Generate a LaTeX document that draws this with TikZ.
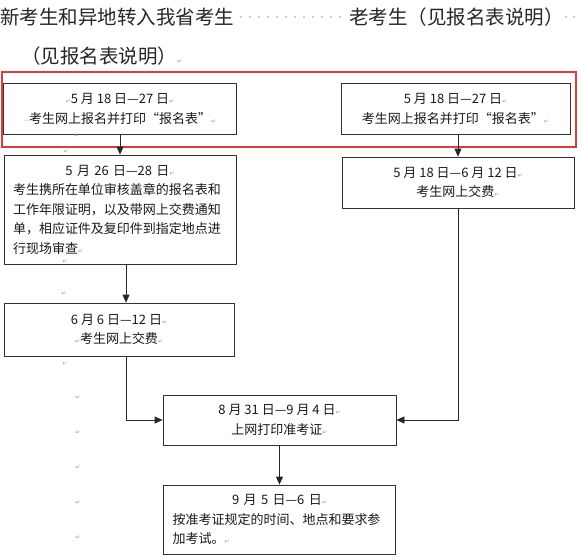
\documentclass[tikz,border=0pt]{standalone}
\definecolor{hlred}{HTML}{DC3C3C}
\definecolor{rtngray}{HTML}{9A9A9A}
\usepackage{fontspec}
\setmainfont{Noto Sans CJK SC}
\newfontfamily\symfont{DejaVu Sans}
\usetikzlibrary{arrows.meta, positioning}
\newcommand{\rtn}{{\symfont\fontsize{6}{6}\selectfont\color{rtngray}↵}}
\newcommand{\spc}{{\symfont\fontsize{8}{8}\selectfont\color{rtngray}··}}
\newcommand{\midline}[1]{\makebox[214pt][c]{#1}}

\begin{document}
\begin{tikzpicture}[x=1pt, y=-1pt,
        box/.style={draw=black!80, line width=0.8pt, inner sep=0pt, align=center,
                    font=\fontsize{13}{19.5}\selectfont, text=black!90},
        txtbox/.style={box, align=left, text width=214pt, inner xsep=9pt},
        hdr/.style={font=\fontsize{19.5}{19.5}\selectfont, text=black!85, inner sep=0pt},
        rtn/.style={font=\symfont\fontsize{6}{6}\selectfont, text=rtngray, inner sep=0pt},
        hlbox/.style={draw=hlred, line width=2.2pt},
        arr/.style={-{Triangle[length=8pt,width=7pt]}, line width=0.8pt, black!85}
      ]
        \useasboundingbox (0,0) rectangle (579,557);

        % heading
        \node[hdr, anchor=west] (newstu) at (0,17) {新考生和异地转入我省考生};
        \foreach \i in {0,...,11}
          \fill[rtngray] (241+\i*9,17) circle (0.8pt);
        \node[hdr, anchor=west] (oldstu) at (349,17) {老考生（见报名表说明）};
        \foreach \i in {0,1}
          \fill[rtngray] (566+\i*8,17) circle (0.8pt);
        \node[hdr, anchor=west] (note) at (21,56) {（见报名表说明）\rtn{}};

        % highlight
        \node[hlbox, minimum width=574pt, minimum height=75pt] (hl) at (289,109.5) {};

        % boxes
        \node[box, minimum width=232.5pt, minimum height=50.5pt] (a1) at (120,109)
          {\rtn{}5 月 18 日—27 日\rtn{}\\\spc{}考生网上报名并打印“报名表”\rtn{}};
        \node[box, minimum width=229pt, minimum height=50.5pt] (b1) at (455.5,109)
          {5 月 18 日—27 日\rtn{}\\考生网上报名并打印“报名表”\rtn{}};
        \node[txtbox, minimum height=109pt] (a2) at (120,209.5)
          {\midline{5 月 26 日—28 日\rtn{}}\\考生携所在单位审核盖章的报名表和\\工作年限证明，以及带网上交费通知\\单，相应证件及复印件到指定地点进\\行现场审查\rtn{}};
        \node[box, minimum width=230pt, minimum height=53pt] (a3) at (119,329.5)
          {6 月 6 日—12 日\rtn{}\\\rtn{}考生网上交费\rtn{}};
        \node[box, minimum width=232pt, minimum height=51pt] (b2) at (458,182.5)
          {5 月 18 日—6 月 12 日\rtn{}\\考生网上交费\rtn{}};
        \node[box, minimum width=233pt, minimum height=50pt] (c1) at (279.5,420)
          {8 月 31 日—9 月 4 日\rtn{}\\上网打印准考证\rtn{}};
        \node[txtbox, minimum height=69pt] (c2) at (279.5,519.5)
          {\midline{9 月 5 日—6 日\rtn{}}\\按准考证规定的时间、地点和要求参\\加考试。\rtn{}};

        % stray marks
        \node[rtn] (m1) at (77,136) {↵};
        \node[rtn] (m2) at (66,152) {↵};
        \node[rtn] (m3) at (65,262) {↵};
        \node[rtn] (m4) at (64,294) {↵};
        \node[rtn] (m5) at (65,364) {↵};
        \foreach \y in {398,433,468,503,538}
          \node[rtn] (m\y) at (78,\y) {↵};

        % connectors
        \coordinate (lj) at (126,420);
        \draw[arr] (a1.south) -- (a2.north);
        \draw[arr] (a2.south -| lj) -- (a3.north -| lj);
        \draw[arr] (a3.south -| lj) -- (lj) -- (c1.west);
        \draw[arr] (b1.south -| b2.north) -- (b2.north);
        \draw[arr] (b2.south) -- (b2.south |- c1.east) -- (c1.east);
        \draw[arr] (c1.south) -- (c2.north);
      \end{tikzpicture}
\end{document}
